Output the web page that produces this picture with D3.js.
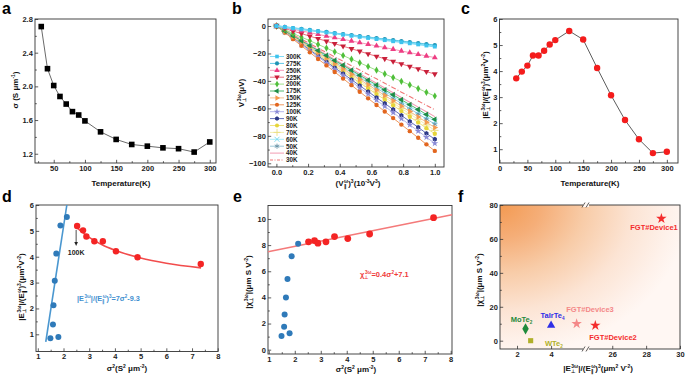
<!DOCTYPE html>
<html><head><meta charset="utf-8">
<script src="https://cdn.jsdelivr.net/npm/d3@7"></script>
<style>
body{margin:0;background:#fff}
svg{display:block}
text{font-family:"Liberation Sans",Arial,sans-serif;font-weight:bold}
</style>
</head><body>
<svg id="chart" width="685" height="378"></svg>
<script>
// ---------------- DATA ----------------
const tempA = [30,40,50,60,70,80,90,100,125,150,175,200,225,250,275,300];
const sigmaA = [2.71,2.21,2.01,1.88,1.79,1.70,1.66,1.59,1.46,1.37,1.31,1.29,1.27,1.26,1.22,1.34];
const ratioC = [3.72,3.98,4.21,4.60,4.60,4.78,5.02,5.19,5.54,5.21,4.12,3.07,2.12,1.38,0.85,0.90];

// panel b
const bX = [0,0.053,0.105,0.158,0.211,0.263,0.316,0.368,0.421,0.474,0.526,0.579,0.632,0.684,0.737,0.789,0.842,0.895,0.947,1.0];
const v300 = [0,-0.8,-1.6,-2.4,-3.2,-3.9,-4.7,-5.5,-6.3,-7.1,-7.9,-8.7,-9.5,-10.3,-11.1,-11.8,-12.6,-13.4,-14.2,-15.0];
const v275 = [0,-0.7,-1.5,-2.2,-2.9,-3.7,-4.4,-5.2,-5.9,-6.6,-7.4,-8.1,-8.8,-9.6,-10.3,-11.1,-11.8,-12.5,-13.3,-14.0];
const v250 = [0,-1.2,-2.4,-3.6,-4.8,-6.1,-7.3,-8.5,-9.7,-10.9,-12.1,-13.3,-14.5,-15.7,-16.9,-18.2,-19.4,-20.6,-21.8,-23.0];
const v225 = [0,-1.8,-3.7,-5.5,-7.4,-9.2,-11.1,-12.9,-14.7,-16.6,-18.4,-20.3,-22.1,-23.9,-25.8,-27.6,-29.5,-31.3,-33.2,-35.0];
const v200 = [0,-2.7,-5.4,-8.1,-10.7,-13.4,-16.1,-18.8,-21.5,-24.2,-26.8,-29.5,-32.2,-34.9,-37.6,-40.3,-42.9,-45.6,-48.3,-51.0];
const v175 = [0,-3.6,-7.2,-10.7,-14.3,-17.9,-21.5,-25.1,-28.6,-32.2,-35.8,-39.4,-42.9,-46.5,-50.1,-53.7,-57.3,-60.8,-64.4,-68.0];
const v150 = [0,-3.9,-7.8,-11.7,-15.6,-19.5,-23.4,-27.3,-31.2,-35.1,-38.9,-42.8,-46.7,-50.6,-54.5,-58.4,-62.3,-66.2,-70.1,-74.0];
const v125 = [0,-4.8,-9.6,-14.4,-19.2,-24.0,-28.7,-33.5,-38.3,-43.1,-47.9,-52.7,-57.5,-62.3,-67.1,-71.8,-76.6,-81.4,-86.2,-91.0];
const v100 = [0,-4.5,-9.0,-13.5,-18.0,-22.5,-27.0,-31.5,-36.0,-40.5,-45.0,-49.5,-54.0,-58.5,-63.0,-67.5,-72.0,-76.5,-81.0,-85.5];
const v90  = [0,-4.3,-8.7,-13.0,-17.4,-21.7,-26.1,-30.4,-34.7,-39.1,-43.4,-47.8,-52.1,-56.4,-60.8,-65.1,-69.5,-73.8,-78.2,-82.5];
const v80  = [0,-4.1,-8.3,-12.4,-16.5,-20.7,-24.8,-28.9,-33.1,-37.2,-41.3,-45.4,-49.6,-53.7,-57.8,-62.0,-66.1,-70.2,-74.4,-78.5];
const v70  = [0,-4.0,-8.0,-12.0,-16.0,-20.0,-24.0,-28.0,-32.0,-36.0,-40.0,-44.0,-48.0,-52.0,-56.0,-60.0,-64.0,-68.0,-72.0,-76.0];
const v60  = [0,-3.7,-7.3,-11.0,-14.6,-18.3,-21.9,-25.6,-29.3,-32.9,-36.6,-40.2,-43.9,-47.6,-51.2,-54.9,-58.5,-62.2,-65.8,-69.5];
const v50  = [0,-3.8,-7.5,-11.3,-15.1,-18.8,-22.6,-26.3,-30.1,-33.9,-37.6,-41.4,-45.2,-48.9,-52.7,-56.4,-60.2,-64.0,-67.7,-71.5];
const v40  = [0,-3.5,-6.9,-10.4,-13.9,-17.4,-20.8,-24.3,-27.8,-31.3,-34.7,-38.2,-41.7,-45.2,-48.6,-52.1,-55.6,-59.1,-62.5,-66.0];
const v30  = [0,-3.2,-6.4,-9.6,-12.8,-16.1,-19.3,-22.5,-25.7,-28.9,-32.1,-35.3,-38.5,-41.7,-44.9,-48.2,-51.4,-54.6,-57.8,-61.0];
const bLabels = ["300K","275K","250K","225K","200K","175K","150K","125K","100K","90K","80K","70K","60K","50K","40K","30K"];

// panel d
const dBlueX = [1.49,1.59,1.61,1.66,1.72,1.80,1.88,2.13];
const dBlueY = [0.85,1.38,2.12,3.07,4.12,0.90,5.21,5.54];
const dRedX  = [2.53,2.76,2.89,3.20,3.53,4.04,4.88,7.34];
const dRedY  = [5.19,5.02,4.78,4.60,4.60,4.21,3.98,3.72];
const dFitBlueX = [1.31,2.13];
const dFitBlueY = [0.71,6.0];
const dFitRedX = [2.55,3.0,3.5,4.0,5.0,6.0,7.35];
const dFitRedY = [5.10,4.75,4.46,4.25,3.95,3.75,3.57];

// panel e
const eBlueX = dBlueX;
const eBlueY = [1.05,1.75,2.70,4.00,5.40,1.25,7.15,8.10];
const eRedX = dRedX;
const eRedY = [8.25,8.35,8.15,8.25,8.65,8.50,8.85,10.10];
const eFitX = [0.97,8.05];
const eFitY = [7.49,10.32];

// panel f
const fNames = ["MoTe2","TaIrTe4","WTe2","FGT#Device3","FGT#Device2","FGT#Device1"];
const fX = [2.5,4.0,2.8,5.5,25.0,28.9];
const fY = [7,9,0,10,9,72];

// ---------------- DRAW ----------------
const svg = d3.select("#chart");
const FS = 7.5, TFS = 8;

function rich(t, segs, fs){
  let cur = 0;
  segs.forEach(s=>{
    const small = s.p ? fs*0.62 : fs;
    const target = s.p==='u' ? -fs*0.4 : (s.p==='d' ? fs*0.22 : 0);
    const ts = t.append("tspan").attr("font-size", small).attr("dy", target-cur).text(s.t);
    if (s.dx) ts.attr("dx", s.dx);
    cur = target;
  });
}

function panel(o){
  const x = o.xs || d3.scaleLinear().domain(o.xd).range([o.l,o.r]);
  const y = d3.scaleLinear().domain(o.yd).range([o.b,o.t]);
  const g = svg.append("g");
  if (o.bg) o.bg(g, x, y);
  const ax = d3.axisBottom(x).tickValues(o.xt).tickSize(-3.2).tickPadding(2.6).tickFormat(o.xf||d3.format("d"));
  const ay = d3.axisLeft(y).tickValues(o.yt).tickSize(-3.2).tickPadding(2.2).tickFormat(o.yf||d3.format("d"));
  g.append("g").attr("transform",`translate(0,${o.b})`).call(ax);
  g.append("g").attr("transform",`translate(${o.l},0)`).call(ay);
  if (o.xm) g.append("g").attr("transform",`translate(0,${o.b})`).call(d3.axisBottom(x).tickValues(o.xm).tickSize(-1.8).tickFormat(""));
  if (o.ym) g.append("g").attr("transform",`translate(${o.l},0)`).call(d3.axisLeft(y).tickValues(o.ym).tickSize(-1.8).tickFormat(""));
  g.selectAll(".domain").remove();
  g.selectAll(".tick line").attr("stroke","#333").attr("stroke-width",0.8);
  g.selectAll(".tick text").attr("font-size",FS).attr("fill","#222")
    .attr("font-family",'"Liberation Sans",Arial,sans-serif').attr("font-weight","bold");
  g.append("rect").attr("x",o.l).attr("y",o.t).attr("width",o.r-o.l).attr("height",o.b-o.t)
    .attr("fill","none").attr("stroke","#333").attr("stroke-width",0.9);
  return {x,y,g};
}

function letter(s,x,y){ svg.append("text").attr("x",x).attr("y",y).attr("font-size",16).attr("fill","#000").text(s); }
function xTitle(cx,by,segs){ const t=svg.append("text").attr("x",cx).attr("y",by).attr("text-anchor","middle").attr("font-size",TFS).attr("fill","#111"); rich(t,segs,TFS); }
function yTitle(bx,cy,segs){ const t=svg.append("text").attr("transform",`translate(${bx},${cy}) rotate(-90)`).attr("text-anchor","middle").attr("font-size",TFS).attr("fill","#111"); rich(t,segs,TFS); }

const Eratio = [{t:"|E"},{t:"⊥",p:"d"},{t:"3ω",p:"u",dx:-3.4},{t:"|/(E"},{t:"∥",p:"d"},{t:"ω",p:"u",dx:-2.6},{t:")"},{t:"3",p:"u"}];
const chiLab = [{t:"|χ"},{t:"⊥",p:"d"},{t:"3ω",p:"u",dx:-3.4},{t:"|(μm S V"},{t:"-2",p:"u"},{t:")"}];
const sigLab = [{t:"σ"},{t:"2",p:"u"},{t:"(S"},{t:"2",p:"u"},{t:" μm"},{t:"-2",p:"u"},{t:")"}];

// ---- a ----
{
  const p = panel({l:35,r:216,t:19,b:163,xd:[20,310],yd:[1.09,2.8],
    xt:d3.range(50,301,50), xm:d3.range(25,310,50), yt:[1.2,1.6,2.0,2.4,2.8], ym:[1.4,1.8,2.2,2.6], yf:d3.format(".1f")});
  const pts = tempA.map((t,i)=>[t,sigmaA[i]]);
  p.g.append("path").attr("d",d3.line().x(d=>p.x(d[0])).y(d=>p.y(d[1]))(pts)).attr("fill","none").attr("stroke","#444").attr("stroke-width",0.8);
  p.g.selectAll("rect.pt").data(pts).join("rect").attr("class","pt")
    .attr("x",d=>p.x(d[0])-2.8).attr("y",d=>p.y(d[1])-2.8).attr("width",5.6).attr("height",5.6).attr("fill","#000");
  letter("a",2,14);
  xTitle(121,186,[{t:"Temperature(K)"}]);
  yTitle(18,90,[{t:"σ (S μm"},{t:"-1",p:"u"},{t:")"}]);
}

// ---- b ----
{
  const p = panel({l:268,r:444,t:19,b:167,xd:[-0.053,1.058],yd:[-102.7,5.1],
    xt:[0,0.2,0.4,0.6,0.8,1.0], xm:[0.1,0.3,0.5,0.7,0.9], xf:d3.format(".1f"),
    yt:[0,-20,-40,-60,-80,-100], ym:[-10,-30,-50,-70,-90]});
  const hexagon = {draw(ctx,size){const r=Math.sqrt(size/2.598);for(let i=0;i<6;i++){const a=Math.PI/3*i+Math.PI/6;const px=r*Math.cos(a),py=r*Math.sin(a);i?ctx.lineTo(px,py):ctx.moveTo(px,py);}ctx.closePath();}};
  const series = [
    {v:v300,c:"#3ec3ee",lc:"#7fdcf6",s:d3.symbolSquare,r:0,w:1.6},
    {v:v275,c:"#1f93b3",lc:"#5fc8e6",s:d3.symbolCircle,r:0,w:1.4},
    {v:v250,c:"#ee3d83",lc:"#f69ab8",s:d3.symbolTriangle,r:0},
    {v:v225,c:"#c8203a",lc:"#ee7080",s:d3.symbolTriangle,r:180},
    {v:v200,c:"#4fbf3a",lc:"#9ee08a",s:d3.symbolDiamond,r:0},
    {v:v175,c:"#1e8c45",lc:"#52b870",s:d3.symbolTriangle,r:-90},
    {v:v150,c:"#f39a4f",lc:"#f8c090",s:d3.symbolTriangle,r:90},
    {v:v125,c:"#e2661f",lc:"#f09a60",s:d3.symbolCircle,r:0},
    {v:v100,c:"#8a8ad6",lc:"#b5b5ea",s:d3.symbolStar,r:0},
    {v:v90, c:"#2c3886",lc:"#6470b8",s:hexagon,r:0},
    {v:v80, c:"#e6d53a",lc:"#f0e480",s:d3.symbolCircle,r:0},
    {v:v70, c:"#eadf80",lc:"#f4eeb0",s:d3.symbolPlus,r:0,stroke:true},
    {v:v60, c:"#74d8ee",lc:"#a8ecf8",s:d3.symbolTimes,r:0,stroke:true},
    {v:v50, c:"#6a93a6",lc:"#9dc8d8",s:d3.symbolAsterisk,r:0,stroke:true},
    {v:v40, c:"#f29cb2",lc:"#f29cb2",s:null,r:0},
    {v:v30, c:"#f07676",lc:"#f07676",s:null,r:0,dash:"5,2,1,2"}
  ];
  svg.append("clipPath").attr("id","clipb").append("rect").attr("x",268).attr("y",19).attr("width",176).attr("height",148);
  const lg = p.g.append("g").attr("clip-path","url(#clipb)");
  series.slice().reverse().forEach(sr=>{
    const pts = bX.map((xv,i)=>[xv,sr.v[i]]);
    lg.append("path").attr("d",d3.line().x(d=>p.x(d[0])).y(d=>p.y(d[1]))(pts)).attr("fill","none")
      .attr("stroke",sr.lc).attr("stroke-width",sr.w||(sr.s?1:1.1)).attr("stroke-dasharray",sr.dash||null);
    if (sr.s){
      const sym = d3.symbol().type(sr.s).size(sr.stroke?20:15)();
      lg.selectAll(null).data(pts).join("path").attr("d",sym)
        .attr("transform",d=>`translate(${p.x(d[0])},${p.y(d[1])}) rotate(${sr.r})`)
        .attr("fill",sr.stroke?"none":sr.c).attr("stroke",sr.stroke?sr.c:"none").attr("stroke-width",1);
    }
  });
  series.forEach((sr,i)=>{
    const yy = 56.5 + i*6.9;
    p.g.append("line").attr("x1",270).attr("x2",284).attr("y1",yy).attr("y2",yy).attr("stroke",sr.lc).attr("stroke-width",1).attr("stroke-dasharray",sr.dash?"3,1.5,1,1.5":null);
    if (sr.s){
      p.g.append("path").attr("d",d3.symbol().type(sr.s).size(sr.stroke?18:13)())
        .attr("transform",`translate(277,${yy}) rotate(${sr.r})`)
        .attr("fill",sr.stroke?"none":sr.c).attr("stroke",sr.stroke?sr.c:"none").attr("stroke-width",0.9);
    }
    p.g.append("text").attr("x",286).attr("y",yy+2.3).attr("font-size",6.3).attr("fill","#222").text(bLabels[i]);
  });
  letter("b",232,14);
  xTitle(358,186,[{t:"(V"},{t:"∥",p:"d"},{t:"ω",p:"u",dx:-2.6},{t:")"},{t:"3",p:"u"},{t:"(10"},{t:"-3",p:"u"},{t:"V"},{t:"3",p:"u"},{t:")"}]);
  yTitle(244,93,[{t:"V"},{t:"⊥",p:"d"},{t:"3ω",p:"u",dx:-3.4},{t:"(μV)"}]);
}

// ---- c ----
{
  const p = panel({l:499.5,r:678,t:19,b:163,xd:[0,320],yd:[0.47,6],
    xt:d3.range(0,301,50), xm:d3.range(25,320,50), yt:[1,2,3,4,5,6], ym:[1.5,2.5,3.5,4.5,5.5]});
  const pts = tempA.map((t,i)=>[t,ratioC[i]]);
  p.g.append("path").attr("d",d3.line().x(d=>p.x(d[0])).y(d=>p.y(d[1]))(pts)).attr("fill","none").attr("stroke","#333").attr("stroke-width",0.8);
  p.g.selectAll("circle").data(pts).join("circle").attr("cx",d=>p.x(d[0])).attr("cy",d=>p.y(d[1])).attr("r",3.2).attr("fill","#f41c1c");
  letter("c",461,14);
  xTitle(590,186,[{t:"Temperature(K)"}]);
  yTitle(488,85,[...Eratio,{t:"(μm"},{t:"2",p:"u"},{t:"V"},{t:"-2",p:"u"},{t:")"}]);
}

// ---- d ----
{
  const p = panel({l:36,r:218,t:205,b:351.5,xd:[0.93,8.01],yd:[0.335,6],
    xt:d3.range(1,9), xm:d3.range(1.5,8,1), yt:[1,2,3,4,5,6], ym:[1.5,2.5,3.5,4.5,5.5]});
  const ln = d3.line().x(d=>p.x(d[0])).y(d=>p.y(d[1]));
  p.g.append("path").attr("d",ln(dFitBlueX.map((v,i)=>[v,dFitBlueY[i]]))).attr("stroke","#4a97d0").attr("stroke-width",1.6).attr("fill","none");
  p.g.append("path").attr("d",d3.line().curve(d3.curveMonotoneX).x(d=>p.x(d[0])).y(d=>p.y(d[1]))(dFitRedX.map((v,i)=>[v,dFitRedY[i]]))).attr("stroke","#f24c4c").attr("stroke-width",1.6).attr("fill","none");
  p.g.selectAll("circle.bl").data(dBlueX.map((v,i)=>[v,dBlueY[i]])).join("circle").attr("class","bl").attr("cx",d=>p.x(d[0])).attr("cy",d=>p.y(d[1])).attr("r",3).attr("fill","#2f7ab9");
  p.g.selectAll("circle.rd").data(dRedX.map((v,i)=>[v,dRedY[i]])).join("circle").attr("class","rd").attr("cx",d=>p.x(d[0])).attr("cy",d=>p.y(d[1])).attr("r",3.2).attr("fill","#f42424");
  const ax0 = p.x(dRedX[0]) - 1, ay0 = p.y(dRedY[0]) + 4;
  p.g.append("line").attr("x1",ax0).attr("x2",ax0).attr("y1",ay0).attr("y2",ay0+14).attr("stroke","#222").attr("stroke-width",0.8);
  p.g.append("path").attr("d",`M${ax0-1.8},${ay0+12} L${ax0+1.8},${ay0+12} L${ax0},${ay0+16} Z`).attr("fill","#222");
  p.g.append("text").attr("x",ax0).attr("y",ay0+25).attr("text-anchor","middle").attr("font-size",7).attr("fill","#222").text("100K");
  const t = p.g.append("text").attr("x",77).attr("y",301).attr("font-size",7.3).attr("fill","#3f8fd0");
  rich(t,[...Eratio,{t:"=7σ"},{t:"2",p:"u"},{t:"-9.3"}],7.3);
  letter("d",2,202);
  xTitle(127,371,sigLab);
  yTitle(24,287,[...Eratio,{t:"(μm"},{t:"2",p:"u"},{t:"V"},{t:"-2",p:"u"},{t:")"}]);
}

// ---- e ----
{
  const p = panel({l:268,r:452,t:205.5,b:354,xd:[0.97,8.05],yd:[-0.33,11.03],
    xt:d3.range(1,9), xm:d3.range(1.5,8,1), yt:[0,2,4,6,8,10], ym:[1,3,5,7,9]});
  const ln = d3.line().x(d=>p.x(d[0])).y(d=>p.y(d[1]));
  p.g.append("path").attr("d",ln(eFitX.map((v,i)=>[v,eFitY[i]]))).attr("stroke","#f47a7a").attr("stroke-width",1.6).attr("fill","none");
  p.g.selectAll("circle.bl").data(eBlueX.map((v,i)=>[v,eBlueY[i]])).join("circle").attr("class","bl").attr("cx",d=>p.x(d[0])).attr("cy",d=>p.y(d[1])).attr("r",3).attr("fill","#2f7ab9");
  p.g.selectAll("circle.rd").data(eRedX.map((v,i)=>[v,eRedY[i]])).join("circle").attr("class","rd").attr("cx",d=>p.x(d[0])).attr("cy",d=>p.y(d[1])).attr("r",3.4).attr("fill","#f42424");
  const t = p.g.append("text").attr("x",360).attr("y",277).attr("font-size",7.5).attr("fill","#f03a3a");
  rich(t,[{t:"χ"},{t:"⊥",p:"d"},{t:"3ω",p:"u",dx:-3.4},{t:"=0.4σ"},{t:"2",p:"u"},{t:"+7.1"}],7.5);
  letter("e",233,202);
  xTitle(356,372,sigLab);
  yTitle(251,282,chiLab);
}

// ---- f ----
{
  const xs = d3.scaleLinear().domain([1,6.05,24.45,30]).range([500,586,586,680]);
  const defs = svg.append("defs");
  const gr = defs.append("radialGradient").attr("id","fgrad").attr("cx",0).attr("cy",0).attr("fx",0).attr("fy",0).attr("r",1.05);
  [[0,"#f39a52"],[0.22,"#f5ae78"],[0.45,"#f8cca8"],[0.7,"#fce4d4"],[0.9,"#fef1ea"],[1,"#fff7f3"]].forEach(s=>gr.append("stop").attr("offset",s[0]).attr("stop-color",s[1]));
  const p = panel({xs, l:500,r:680,t:205,b:349,yd:[-4.9,80],
    xt:[2,4,26,28,30], yt:[0,20,40,60,80], ym:[10,30,50,70],
    bg:(g)=>g.append("rect").attr("x",500).attr("y",205).attr("width",180).attr("height",144).attr("fill","url(#fgrad)")});
  [205,349].forEach(yy=>{
    p.g.append("rect").attr("x",583).attr("y",yy-2).attr("width",6).attr("height",4).attr("fill","#fff8f4");
    p.g.append("path").attr("d",`M${582},${yy+2.5} L${585},${yy-2.5} M${586},${yy+2.5} L${589},${yy-2.5}`).attr("stroke","#333").attr("stroke-width",0.8);
  });
  const styles = [
    {c:"#1f8a3c",s:d3.symbolDiamond,sz:36,lx:521.5,ly:322,anchor:"middle"},
    {c:"#2f2fe6",s:d3.symbolTriangle,sz:30,lx:552.5,ly:318,anchor:"middle"},
    {c:"#b0b02a",s:d3.symbolSquare,sz:26,lx:545,ly:346,anchor:"start"},
    {c:"#f48888",s:d3.symbolStar,sz:34,lx:590,ly:311.5,anchor:"middle"},
    {c:"#f42c2c",s:d3.symbolStar,sz:34,lx:613,ly:340,anchor:"middle"},
    {c:"#f42c2c",s:d3.symbolStar,sz:34,lx:654,ly:230,anchor:"middle"}
  ];
  fNames.forEach((n,i)=>{
    const st = styles[i];
    p.g.append("path").attr("d",d3.symbol().type(st.s).size(st.sz)()).attr("transform",`translate(${p.x(fX[i])},${p.y(fY[i])})`).attr("fill",st.c);
    const t = p.g.append("text").attr("x",st.lx).attr("y",st.ly).attr("text-anchor",st.anchor).attr("font-size",7.5).attr("fill",st.c);
    const m = n.match(/^([A-Za-z]+?)(\d)$/);
    if (m && n!=="FGT#Device1") rich(t,[{t:m[1]},{t:m[2],p:"d"}],7.5); else t.text(n);
  });
  letter("f",458,202);
  xTitle(598,371,[...Eratio,{t:"(μm"},{t:"2",p:"u"},{t:" V"},{t:"-2",p:"u"},{t:")"}]);
  yTitle(482,280,chiLab);
}
</script>
</body></html>
